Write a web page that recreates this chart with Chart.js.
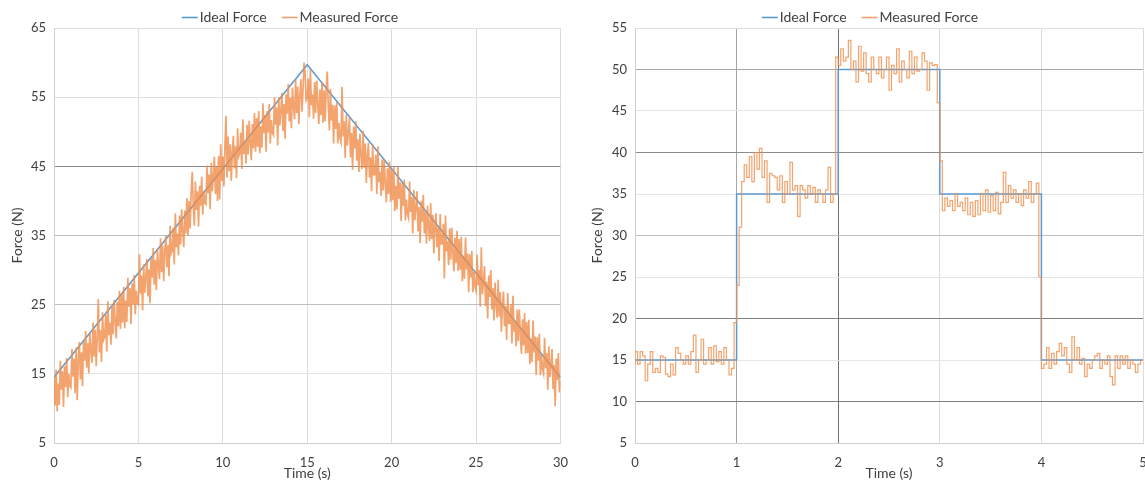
<!DOCTYPE html>
<html>
<head>
<meta charset="utf-8">
<script src="https://cdn.jsdelivr.net/npm/chart.js@4.4.1/dist/chart.umd.min.js"></script>
<style>
  html, body { margin: 0; padding: 0; background: #fff; overflow: hidden; }
  .box { position: absolute; top: 0; height: 484px; width: 580px; }
  #b1 { left: 0; }
  #b2 { left: 580px; }
</style>
</head>
<body>
<div class="box" id="b1"><canvas id="c1"></canvas></div>
<div class="box" id="b2"><canvas id="c2"></canvas></div>
<script>
// ---------- Left chart: triangular ramp ----------
const rampIdealTime = [0, 15, 30];
const rampIdealForce = [14.5, 59.7, 14.5];
const rampMeasuredStart = 0;       // s
const rampMeasuredStep = 0.0625;   // s between samples (16 per second)
const rampMeasuredForce = [
  14.5, 10.4, 15.6, 9.6, 13.6, 10.5, 16.9, 12.7, 15.4, 10.2, 16.1, 13.1, 17.3, 11.6, 15.0, 13.2,
  13.0, 18.6, 14.6, 17.2, 12.2, 18.8, 11.2, 16.9, 19.6, 14.2, 18.1, 13.2, 19.7, 16.9, 21.2, 15.9,
  19.4, 15.1, 21.0, 18.3, 16.6, 22.4, 17.5, 21.4, 16.1, 20.4, 25.8, 18.1, 21.3, 16.7, 23.9, 19.9,
  20.3, 23.5, 18.2, 25.5, 20.6, 22.4, 19.2, 24.9, 20.7, 25.7, 22.5, 20.1, 25.4, 21.9, 27.0, 21.5,
  26.5, 22.4, 27.6, 21.6, 25.6, 22.5, 28.9, 24.7, 27.4, 22.2, 28.1, 25.1, 29.3, 23.6, 27.0, 25.2,
  25.0, 32.3, 26.6, 29.2, 24.2, 30.8, 26.7, 28.9, 31.6, 26.2, 30.1, 25.2, 31.7, 28.9, 33.2, 27.9,
  31.4, 27.1, 33.0, 30.4, 28.7, 34.6, 29.7, 33.6, 28.4, 32.7, 35.0, 30.4, 33.6, 29.1, 36.4, 32.4,
  32.8, 36.1, 30.8, 38.2, 33.3, 35.3, 32.1, 37.9, 33.7, 38.8, 35.6, 33.3, 38.6, 35.3, 40.4, 35.0,
  40.0, 36.0, 41.2, 44.2, 39.3, 36.4, 42.8, 38.7, 41.4, 36.3, 42.2, 39.3, 43.5, 38.0, 41.4, 39.7,
  39.5, 45.1, 41.1, 43.8, 38.8, 45.5, 41.4, 43.6, 46.4, 41.0, 44.9, 40.0, 46.5, 40.2, 48.2, 42.9,
  46.4, 42.1, 47.9, 52.3, 43.4, 49.3, 44.3, 48.2, 42.9, 47.1, 49.4, 44.7, 47.9, 43.3, 50.5, 46.4,
  46.8, 49.9, 44.6, 51.8, 46.8, 48.6, 45.4, 51.0, 46.7, 51.6, 48.4, 45.9, 51.1, 47.6, 52.7, 47.1,
  52.0, 47.8, 53.0, 46.9, 50.8, 47.7, 54.1, 49.8, 52.4, 47.1, 53.0, 49.9, 54.0, 48.3, 51.7, 49.8,
  49.5, 55.0, 51.0, 53.5, 48.0, 55.0, 50.9, 53.0, 55.6, 50.1, 54.0, 49.0, 55.4, 52.6, 56.9, 51.5,
  54.9, 50.5, 56.4, 53.6, 51.8, 57.6, 52.7, 56.5, 51.1, 55.3, 57.6, 52.9, 56.0, 60.0, 58.6, 54.5,
  54.8, 57.7, 52.1, 59.0, 53.8, 55.4, 51.9, 57.2, 52.7, 57.4, 53.9, 51.1, 56.1, 52.4, 57.2, 51.3,
  56.0, 51.5, 56.3, 58.7, 53.6, 50.2, 56.2, 51.6, 53.9, 48.3, 53.8, 50.4, 54.3, 48.3, 51.3, 49.1,
  48.5, 56.5, 49.3, 51.5, 46.2, 52.5, 48.0, 49.8, 52.1, 46.3, 49.8, 44.5, 50.7, 47.6, 51.5, 45.8,
  48.9, 44.2, 49.7, 46.6, 44.6, 50.1, 44.8, 48.3, 42.6, 46.5, 48.4, 43.4, 46.3, 41.4, 48.2, 43.8,
  43.8, 46.7, 41.0, 47.9, 42.7, 44.2, 40.7, 46.0, 41.5, 46.1, 42.5, 39.8, 44.7, 41.0, 45.7, 39.9,
  44.5, 40.1, 44.9, 38.5, 42.2, 38.8, 44.9, 40.3, 42.7, 37.1, 42.6, 39.3, 43.1, 37.2, 40.2, 38.1,
  37.5, 42.8, 38.4, 40.6, 35.3, 41.6, 37.2, 39.0, 41.4, 35.6, 39.1, 33.9, 40.0, 37.0, 40.9, 35.3,
  38.4, 33.8, 39.3, 36.2, 34.2, 39.7, 34.5, 38.0, 32.4, 36.3, 38.2, 33.3, 36.1, 31.3, 38.1, 33.8,
  33.8, 36.7, 28.8, 37.9, 32.7, 34.2, 30.7, 36.0, 31.5, 36.1, 32.5, 29.8, 34.7, 31.0, 35.7, 29.9,
  34.5, 30.0, 34.8, 28.4, 32.1, 28.7, 34.7, 30.1, 32.4, 26.8, 32.3, 28.9, 32.8, 26.8, 29.8, 27.6,
  27.0, 32.2, 27.8, 30.0, 24.7, 33.3, 26.5, 28.3, 30.6, 24.8, 28.3, 23.0, 29.2, 26.1, 30.0, 24.3,
  27.4, 22.7, 28.2, 25.1, 23.1, 28.6, 23.3, 26.8, 21.1, 25.0, 26.9, 21.9, 24.8, 19.9, 26.7, 22.3,
  22.3, 25.1, 19.4, 26.3, 21.1, 22.6, 19.0, 24.3, 19.7, 24.3, 20.7, 17.9, 22.9, 19.1, 23.8, 17.9,
  22.5, 18.0, 22.8, 16.4, 20.1, 16.7, 22.7, 18.1, 20.4, 14.8, 20.3, 16.9, 20.8, 14.8, 17.8, 15.6,
  15.0, 20.2, 15.8, 18.0, 12.7, 19.0, 14.5, 16.3, 18.6, 12.8, 16.3, 10.3, 17.2, 14.1, 18.0, 12.3,
  14.0
];
const rampYTicks = [5, 15, 25, 35, 45, 55, 65];
const rampXTicks = [0, 5, 10, 15, 20, 25, 30];

// ---------- Right chart: step input ----------
const stepIdealTime  = [0, 1, 1, 2, 2, 3, 3, 4, 4, 5];
const stepIdealForce = [15, 15, 35, 35, 50, 50, 35, 35, 15, 15];
const stepMeasuredStart = 0;     // s
const stepMeasuredStep = 0.025;  // s between samples
const stepMeasuredForce = [
  14.3, 16.0, 14.5, 16.0, 15.5, 12.5, 14.5, 16.0, 13.5, 14.0,
  13.5, 15.5, 15.3, 13.3, 13.0, 14.5, 13.2, 16.5, 15.8, 15.0,
  14.5, 15.5, 14.5, 16.0, 18.0, 13.5, 15.0, 17.5, 14.5, 15.0,
  16.5, 14.5, 16.7, 14.8, 16.0, 14.5, 16.5, 15.0, 13.2, 14.0,
  19.5, 24.0, 31.0, 36.5, 38.5, 37.0, 39.5, 36.5, 40.0, 38.0,
  40.5, 37.0, 39.0, 34.0, 37.5, 37.2, 37.0, 35.5, 37.2, 34.0,
  36.5, 35.0, 38.8, 35.5, 36.0, 32.3, 36.0, 35.5, 34.5, 36.0,
  35.0, 35.8, 34.0, 35.5, 35.0, 34.0, 35.5, 38.2, 34.0, 35.0,
  51.5, 50.5, 52.5, 51.0, 51.5, 53.5, 50.0, 51.0, 48.5, 52.8,
  49.8, 52.0, 49.5, 48.5, 51.5, 50.0, 49.5, 51.5, 49.0, 50.0,
  51.5, 47.5, 50.5, 49.5, 52.5, 48.5, 51.0, 50.0, 49.0, 52.2,
  49.5, 51.5, 49.8, 50.0, 52.0, 51.0, 47.5, 50.8, 50.5, 50.6,
  46.0, 39.0, 33.0, 34.5, 33.5, 34.2, 33.0, 35.0, 33.5, 34.0,
  33.0, 34.5, 32.5, 34.0, 32.3, 34.2, 32.5, 35.0, 33.0, 35.5,
  32.8, 34.8, 33.0, 35.2, 32.6, 34.0, 37.6, 34.0, 36.0, 34.5,
  35.5, 34.0, 35.0, 33.6, 35.5, 34.5, 36.5, 34.0, 35.0, 36.3,
  25.0, 14.0, 14.5, 16.5, 14.0, 15.8, 14.5, 16.0, 17.0, 15.5,
  16.5, 14.5, 13.5, 17.8, 15.0, 16.5, 14.5, 15.2, 13.0, 14.5,
  14.0, 15.0, 15.5, 15.8, 14.0, 15.0, 14.5, 15.5, 13.0, 12.0,
  15.5, 14.0, 15.5, 14.5, 15.5, 14.0, 15.0, 14.5, 13.5, 14.5,
  15.0
];
const stepYTicks = [5, 10, 15, 20, 25, 30, 35, 40, 45, 50, 55];
const stepXTicks = [0, 1, 2, 3, 4, 5];

// gridline shades as they appear in the reference
const rampYGrid = {5: '#d9d9d9', 15: '#e3e3e3', 25: '#bfbfbf', 35: '#bfbfbf', 45: '#8c8c8c', 55: '#e0e0e0', 65: '#e0e0e0'};
const rampXGrid = {};
const stepYGrid = {5: '#d9d9d9', 10: '#7f7f7f', 15: '#e6e6e6', 20: '#7f7f7f', 25: '#e3e3e3', 30: '#bfbfbf', 35: '#e3e3e3', 40: '#8c8c8c', 45: '#e3e3e3', 50: '#a6a6a6', 55: '#e0e0e0'};
const stepXGrid = {0: '#bfbfbf', 1: '#a6a6a6', 2: '#6e6e6e', 3: '#dcdcdc', 4: '#dcdcdc', 5: '#dcdcdc'};

const FONT = 'Lato, "Open Sans", "DejaVu Sans", sans-serif';
const TXT = '#404040';
const BLUE = '#5B9BD5';
const ORANGE = 'rgba(240,140,72,0.8)';

function pairs(xs, ys) { return ys.map((y, i) => ({x: xs[i], y})); }
function sampled(start, step, ys) { return ys.map((y, i) => ({x: start + i * step, y})); }

// compact Excel-style legend: short line, small gap, label
const excelLegend = {
  id: 'excelLegend',
  afterDraw(chart) {
    const ctx = chart.ctx;
    const sets = chart.data.datasets;
    const lineLen = 16, gap = 2, itemGap = 15, cy = 17;
    ctx.save();
    ctx.font = '14px ' + FONT;
    const widths = sets.map(d => lineLen + gap + ctx.measureText(d.label).width);
    const total = widths.reduce((a, b) => a + b, 0) + itemGap * (sets.length - 1);
    let x = chart.width / 2 - total / 2;
    sets.forEach((d, i) => {
      ctx.strokeStyle = d.legendColor || d.borderColor;
      ctx.lineWidth = 1.6;
      ctx.beginPath();
      ctx.moveTo(x, cy + 0.5);
      ctx.lineTo(x + lineLen, cy + 0.5);
      ctx.stroke();
      ctx.fillStyle = TXT;
      ctx.textBaseline = 'middle';
      ctx.textAlign = 'left';
      ctx.fillText(d.label, x + lineLen + gap, cy);
      x += widths[i] + itemGap;
    });
    ctx.restore();
  }
};

function makeChart(id, cfg) {
  return new Chart(document.getElementById(id), {
    type: 'line',
    data: {
      datasets: [
        { label: 'Ideal Force', data: cfg.ideal, borderColor: BLUE, backgroundColor: BLUE,
          borderWidth: 1.5, pointRadius: 0, tension: 0, order: 1 },
        { label: 'Measured Force', data: cfg.measured, borderColor: ORANGE, backgroundColor: ORANGE,
          legendColor: '#F0A070',
          borderWidth: cfg.measuredWidth, pointRadius: 0, tension: 0, stepped: cfg.stepped, order: 0 }
      ]
    },
    plugins: [excelLegend],
    options: {
      responsive: true, maintainAspectRatio: false, animation: false,
      events: [],
      layout: { padding: { left: 0, right: 17, top: 28, bottom: 0 } },
      plugins: {
        tooltip: { enabled: false },
        legend: { display: false }
      },
      scales: {
        x: {
          type: 'linear', min: cfg.xTicks[0], max: cfg.xTicks[cfg.xTicks.length - 1],
          afterBuildTicks: s => { s.ticks = cfg.xTicks.map(v => ({value: v})); },
          afterFit: s => { s.height = 41; },
          ticks: { font: { family: FONT, size: 13 }, color: TXT, padding: 12, maxRotation: 0, autoSkip: false },
          grid: { drawTicks: false, lineWidth: 1, color: c => cfg.xGrid[c.tick && c.tick.value] || '#dcdcdc' },
          border: { color: '#d0d0d0' },
          title: { display: true, text: 'Time (s)', font: { family: FONT, size: 14 }, color: TXT, padding: { top: 0, bottom: 2 } }
        },
        y: {
          type: 'linear', min: cfg.yTicks[0], max: cfg.yTicks[cfg.yTicks.length - 1],
          afterBuildTicks: s => { s.ticks = cfg.yTicks.map(v => ({value: v})); },
          afterFit: s => { s.width = cfg.yWidth; },
          ticks: { font: { family: FONT, size: 13 }, color: TXT, padding: 8, autoSkip: false },
          grid: { drawTicks: false, lineWidth: 1, color: c => cfg.yGrid[c.tick && c.tick.value] || '#dcdcdc' },
          border: { color: '#d0d0d0' },
          title: { display: true, text: 'Force (N)', font: { family: FONT, size: 14 }, color: TXT, padding: { top: 9, bottom: 0 } }
        }
      }
    }
  });
}

makeChart('c1', {
  ideal: pairs(rampIdealTime, rampIdealForce),
  measured: sampled(rampMeasuredStart, rampMeasuredStep, rampMeasuredForce),
  stepped: false, measuredWidth: 1.7,
  xTicks: rampXTicks, yTicks: rampYTicks, xGrid: rampXGrid, yGrid: rampYGrid, yWidth: 54
});
makeChart('c2', {
  ideal: pairs(stepIdealTime, stepIdealForce),
  measured: sampled(stepMeasuredStart, stepMeasuredStep, stepMeasuredForce),
  stepped: 'after', measuredWidth: 1.2,
  xTicks: stepXTicks, yTicks: stepYTicks, xGrid: stepXGrid, yGrid: stepYGrid, yWidth: 55
});
</script>
</body>
</html>
